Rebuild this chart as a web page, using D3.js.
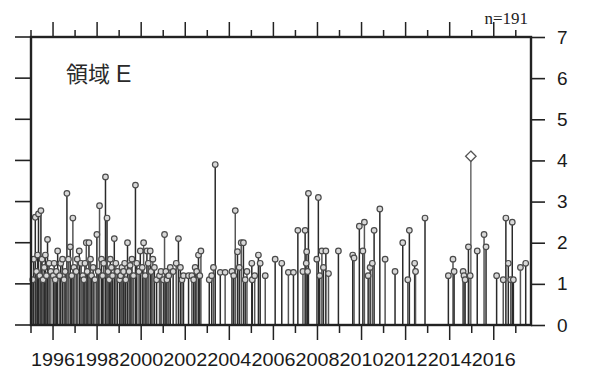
<!DOCTYPE html>
<html><head><meta charset="utf-8">
<script src="https://cdn.jsdelivr.net/npm/d3@7"></script>
<style>body{margin:0;background:#fff}svg{display:block}</style>
</head><body>
<script>
// event dates (decimal years) and values
const years = [
 1995.08,1995.12,1995.195,1995.25,1995.30,1995.34,1995.40,1995.45,1995.50,1995.55,1995.60,1995.65,1995.70,1995.75,1995.82,1995.90,
 1996.01,1996.05,1996.10,1996.15,1996.21,1996.30,1996.35,1996.43,1996.50,1996.55,1996.63,1996.70,1996.78,1996.85,1996.90,1996.95,
 1997.05,1997.10,1997.19,1997.27,1997.35,1997.40,1997.45,1997.51,1997.55,1997.63,1997.70,1997.75,1997.82,1997.90,1997.99,
 1998.05,1998.11,1998.20,1998.25,1998.30,1998.38,1998.45,1998.50,1998.55,1998.60,1998.65,1998.70,1998.78,1998.85,1998.92,
 1999.02,1999.07,1999.13,1999.20,1999.25,1999.30,1999.38,1999.45,1999.50,1999.58,1999.65,1999.74,1999.80,1999.90,1999.96,
 2000.05,2000.11,2000.18,2000.26,2000.32,2000.41,2000.45,2000.53,2000.60,2000.70,2000.83,2000.90,
 2001.01,2001.06,2001.12,2001.17,2001.25,2001.32,2001.45,2001.59,2001.69,2001.78,2001.85,2001.92,
 2002.15,2002.30,2002.38,2002.45,2002.52,2002.60,2002.66,2002.71,
 2003.09,2003.20,2003.28,2003.36,2003.59,2003.81,
 2004.12,2004.20,2004.27,2004.37,2004.45,2004.54,2004.64,2004.72,2004.80,
 2005.02,2005.04,2005.15,2005.32,2005.40,2005.63,
 2006.08,2006.38,2006.68,2006.91,
 2007.11,2007.34,2007.44,2007.49,2007.51,2007.55,2007.59,2007.97,
 2008.04,2008.10,2008.20,2008.27,2008.38,2008.50,2008.95,
 2009.60,2009.66,2009.90,
 2010.06,2010.13,2010.30,2010.39,2010.49,2010.57,2010.83,
 2011.07,2011.52,2011.87,
 2012.10,2012.17,2012.41,2012.45,2012.88,
 2013.94,
 2014.15,2014.20,2014.61,2014.65,2014.70,2014.85,2014.93,2014.96,
 2015.25,2015.56,2015.65,
 2016.13,2016.43,2016.55,2016.66,2016.77,2016.84,2016.89,
 2017.21,2017.45
];
const values = [
 1.1,1.6,2.62,1.3,1.7,2.7,1.2,2.78,1.6,1.1,1.4,1.7,1.2,2.08,1.5,1.3,
 1.2,1.5,1.1,1.3,1.8,1.2,1.5,1.6,1.1,1.3,3.2,1.6,1.9,1.2,2.6,1.4,
 1.3,1.6,1.8,1.5,1.2,1.1,1.5,2.0,1.3,2.0,1.6,1.2,1.4,1.1,2.2,
 1.3,2.9,1.6,1.2,1.5,3.6,2.6,1.3,1.1,1.6,1.4,1.2,2.1,1.5,1.3,
 1.1,1.2,1.4,1.3,1.5,1.1,2.0,1.3,1.45,1.6,1.2,3.4,1.5,1.3,1.8,
 1.4,2.0,1.2,1.8,1.5,1.8,1.3,1.6,1.4,1.1,1.2,1.3,
 1.1,2.2,1.3,1.1,1.2,1.4,1.3,1.5,2.1,1.4,1.1,1.2,
 1.2,1.2,1.1,1.4,1.3,1.7,1.2,1.8,
 1.1,1.2,1.4,3.9,1.28,1.28,
 1.3,1.2,2.78,1.78,1.4,2.0,2.0,1.1,1.3,
 1.5,1.1,1.2,1.7,1.5,1.2,
 1.6,1.5,1.28,1.28,
 2.3,1.3,2.3,1.5,1.78,1.3,3.2,1.6,
 3.1,1.2,1.8,1.4,1.8,1.25,1.8,
 1.7,1.63,2.4,
 1.8,2.5,1.2,1.4,1.5,2.3,2.82,
 1.6,1.3,2.0,
 1.1,2.3,1.5,1.3,2.6,
 1.2,
 1.6,1.3,1.3,1.2,1.1,1.9,1.2,4.1,
 1.8,2.2,1.9,
 1.2,1.1,2.6,1.5,1.1,2.5,1.1,
 1.4,1.5
];
const xTickLabels = [1996,1998,2000,2002,2004,2006,2008,2010,2012,2014,2016];
const yTickLabels = [0,1,2,3,4,5,6,7];
const titleMain = "領域";
const titleLetter = "E";
const countLabel = "n=191";

const W = 592, H = 374;
const svg = d3.select("body").append("svg").attr("width", W).attr("height", H);
const L = 31, R = 531, T = 37, B = 325;
const x = d3.scaleLinear().domain([1995, 2017.69]).range([L, R]);
const y = d3.scaleLinear().domain([0, 7]).range([B, T]);

const data = years.map((t, i) => ({t, v: values[i]}));
const maxV = d3.max(values);

// stems
svg.append("g").selectAll("line").data(data).join("line")
  .attr("x1", d => x(d.t)).attr("x2", d => x(d.t))
  .attr("y1", y(0)).attr("y2", d => y(d.v))
  .attr("stroke", (d, i) => d.v === maxV ? "#6a6a6a" : (i % 3 === 0 ? "#555" : "#2a2a2a"))
  .attr("stroke-width", 1.5);

// markers
const mk = svg.append("g");
mk.selectAll("circle").data(data.filter(d => d.v !== maxV)).join("circle")
  .attr("cx", d => x(d.t)).attr("cy", d => y(d.v)).attr("r", 2.8)
  .attr("fill", "#d8d8d8").attr("stroke", "#4a4a4a").attr("stroke-width", 1.2);
mk.selectAll("path").data(data.filter(d => d.v === maxV)).join("path")
  .attr("transform", d => `translate(${x(d.t)},${y(d.v)})`)
  .attr("d", d3.symbol().type(d3.symbolDiamond2).size(70))
  .attr("fill", "#fff").attr("stroke", "#555").attr("stroke-width", 1.3);

// year ticks, bottom and top
const yearTicks = d3.range(1995, 2018);
svg.append("g").selectAll("line").data(yearTicks).join("line")
  .attr("x1", d => x(d)).attr("x2", d => x(d))
  .attr("y1", B).attr("y2", d => B + (d % 2 === 0 ? 15 : 8))
  .attr("stroke", "#222").attr("stroke-width", 1.5);
svg.append("g").selectAll("line").data(yearTicks).join("line")
  .attr("x1", d => x(d)).attr("x2", d => x(d))
  .attr("y1", T).attr("y2", d => T - (d % 2 === 0 ? 15 : 7))
  .attr("stroke", "#222").attr("stroke-width", 1.5);

svg.append("g").selectAll("text").data(xTickLabels).join("text")
  .attr("x", d => x(d)).attr("y", 366)
  .attr("text-anchor", "middle")
  .attr("font-family", "Liberation Sans, Arial, sans-serif").attr("font-size", 19)
  .attr("textLength", 44).attr("lengthAdjust", "spacingAndGlyphs")
  .attr("fill", "#1a1a1a").text(d => d);

const yAx = d3.axisRight(y).tickValues(yTickLabels).tickSize(14).tickPadding(12).tickFormat(d3.format("d"));
const gy = svg.append("g").attr("transform", `translate(${R},0)`).call(yAx);
gy.select(".domain").remove();
gy.selectAll(".tick line").attr("stroke", "#222").attr("stroke-width", 1.6);
gy.selectAll(".tick text").attr("font-family", "Liberation Sans, Arial, sans-serif")
  .attr("font-size", 19).attr("fill", "#1a1a1a");

svg.append("g").selectAll("line").data(yTickLabels).join("line")
  .attr("x1", L - 16).attr("x2", L).attr("y1", d => y(d)).attr("y2", d => y(d))
  .attr("stroke", "#222").attr("stroke-width", 1.6);

// frame
svg.append("rect").attr("x", L).attr("y", T).attr("width", R - L).attr("height", B - T)
  .attr("fill", "none").attr("stroke", "#222").attr("stroke-width", 2.4);

const tt = svg.append("text").attr("x", 66).attr("y", 82)
  .attr("font-family", "Noto Sans CJK JP, sans-serif").attr("font-size", 22)
  .attr("fill", "#2a2a2a");
tt.append("tspan").text(titleMain);
tt.append("tspan").attr("dx", 6).attr("font-family", "Liberation Sans, Arial, sans-serif")
  .attr("font-size", 23).text(titleLetter);
svg.append("text").attr("x", 528).attr("y", 24).attr("text-anchor", "end")
  .attr("font-family", "Liberation Serif, serif").attr("font-size", 17)
  .attr("fill", "#222").text(countLabel);
</script>
</body></html>
